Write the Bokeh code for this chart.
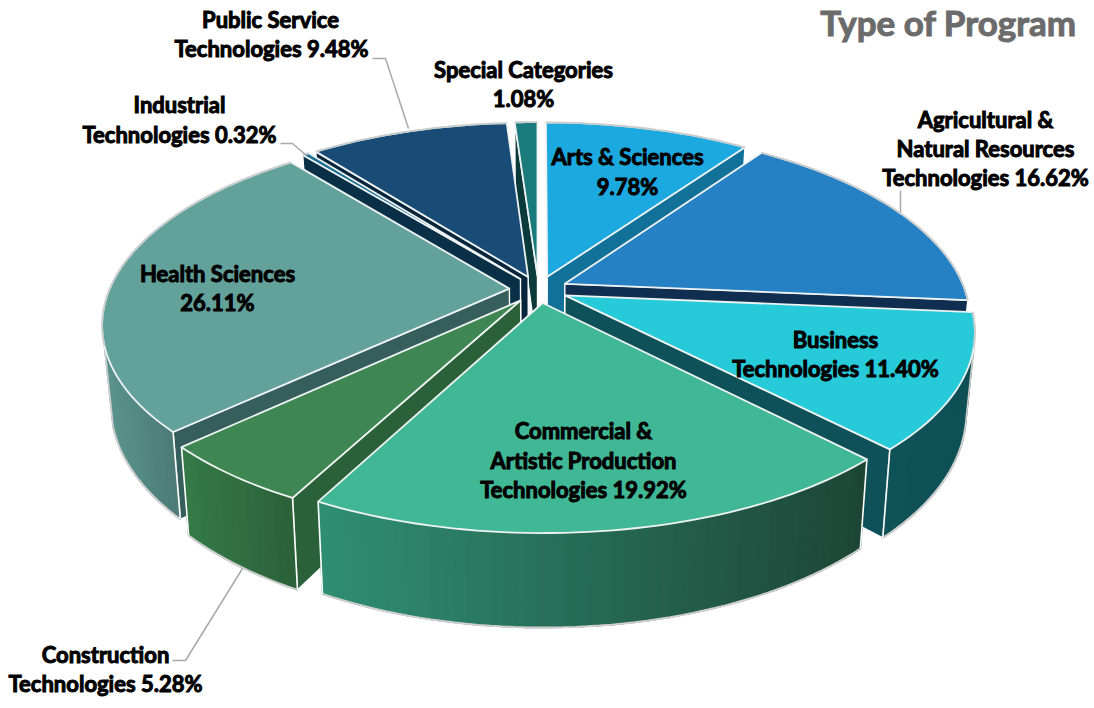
import math
from bokeh.plotting import figure
from bokeh.embed import file_html
from bokeh.resources import INLINE
from bokeh.core.properties import value

# --- data ---
programs = ["Arts & Sciences", "Agricultural & Natural Resources Technologies", "Business Technologies",
            "Commercial & Artistic Production Technologies", "Construction Technologies", "Health Sciences",
            "Industrial Technologies", "Public Service Technologies", "Special Categories"]
shares = [9.78, 16.62, 11.40, 19.92, 5.28, 26.11, 0.32, 9.48, 1.08]
top_colors = ["#1CA9E0", "#2581C4", "#27CAD8", "#40B795", "#3E8752", "#63A19B", "#1B6F94", "#184C76", "#1B7A7C"]
face_colors = ["#127198", "#0F2E50", "#0E5158", "#1E4A38", "#2B6138", "#365E5C", "#0A3048", "#08263B", "#0B3A3A"]
wall_left = ["#127198", "#0F2E50", "#0F5257", "#2F8F72", "#357A47", "#5A938D", "#0A3048", "#08263B", "#0B3A3A"]
wall_right = ["#127198", "#0F2E50", "#0E5055", "#1D4536", "#2B6138", "#4C7B76", "#0A3048", "#08263B", "#0B3A3A"]
label_lines = [
    ("Public Service", 270, 19), ("Technologies 9.48%", 271, 48),
    ("Special Categories", 523, 69), ("1.08%", 523, 98),
    ("Industrial", 179, 104), ("Technologies 0.32%", 179, 134),
    ("Arts & Sciences", 627, 156), ("9.78%", 627, 186),
    ("Agricultural &", 985, 119), ("Natural Resources", 985, 148), ("Technologies 16.62%", 985, 177),
    ("Business", 835, 339), ("Technologies 11.40%", 835, 368),
    ("Commercial &", 583, 430), ("Artistic Production", 583, 460), ("Technologies 19.92%", 583, 489),
    ("Health Sciences", 217, 273), ("26.11%", 217, 302),
    ("Construction", 105, 654), ("Technologies 5.28%", 105, 683),
]
leaders = [([408, 385, 372], [128, 58, 58]), ([306, 292, 280], [155, 143, 143]),
           ([242, 185, 172], [568, 660, 660]), ([900, 900], [190, 212])]

# --- projection of the tilted pie ---
CX, CY, RX, RY, KX, KY, EXPLODE, DEPTH, SHRINK = 538, 289, 400, 185, 0.18, 0.173, 0.073, 77, 0.98
WALL_MIN_V = 0.3


def proj(u, v, low=False):
    x = CX + RX * u / (1 - KX * v)
    wy = 1 / (1 - KY * v)
    y = CY + RY * v * wy
    if low:
        x = CX + (x - CX) * SHRINK
        y = y + DEPTH * wy
    return x, y


def mix(a, b, t):
    ca = [int(a[i:i + 2], 16) for i in (1, 3, 5)]
    cb = [int(b[i:i + 2], 16) for i in (1, 3, 5)]
    return "#%02x%02x%02x" % tuple(round(p + (q - p) * t) for p, q in zip(ca, cb))


p = figure(width=1090, height=700, x_range=(0, 1090), y_range=(700, 0), output_backend="svg",
           toolbar_location=None, min_border=0, outline_line_color=None, background_fill_color="white")
p.axis.visible = False
p.grid.visible = False

slices = []
start = 0.0
for i, s in enumerate(shares):
    a0 = start / 100 * 2 * math.pi
    a1 = (start + s) / 100 * 2 * math.pi
    start += s
    slices.append((i, a0, a1, (a0 + a1) / 2))
slices.sort(key=lambda t: -math.cos(t[3]))

GAP = "#EEF2F2"
for i, a0, a1, mid in slices:
    ou, ov = EXPLODE * math.sin(mid), -EXPLODE * math.cos(mid)
    n = max(4, int((a1 - a0) * 40))
    ang = [a0 + (a1 - a0) * k / n for k in range(n + 1)]
    rim = [(ou + math.sin(a), ov - math.cos(a)) for a in ang]
    tip = (ou, ov)
    # radial faces
    for edge, nrm in ((rim[0], a0 - math.pi / 2), (rim[-1], a1 + math.pi / 2)):
        if -math.cos(nrm) > 0.02:
            t0, t1 = proj(*tip), proj(*edge)
            b0, b1 = proj(*tip, low=True), proj(*edge, low=True)
            p.patch([t0[0], t1[0], b1[0], b0[0]], [t0[1], t1[1], b1[1], b0[1]],
                    fill_color=face_colors[i], line_color="white", line_width=1.4)
    # outer wall, as strips shaded from left to right
    vis = [k for k in range(n) if (rim[k][1] + rim[k + 1][1]) / 2 > WALL_MIN_V]
    if len(vis) >= 6:
        xs, ys, cols = [], [], []
        allx = [proj(*rim[k])[0] for k in vis] + [proj(*rim[vis[-1] + 1])[0]]
        lo, hi = min(allx), max(allx)
        for k in vis:
            a, b = rim[k], rim[k + 1]
            ta, tb, bb, ba = proj(*a), proj(*b), proj(*b, low=True), proj(*a, low=True)
            xs.append([ta[0], tb[0], bb[0], ba[0]])
            ys.append([ta[1], tb[1], bb[1], ba[1]])
            t = ((ta[0] + tb[0]) / 2 - lo) / max(hi - lo, 1)
            cols.append(mix(wall_left[i], wall_right[i], t))
        p.patches(xs, ys, fill_color=cols, line_color=cols, line_width=1.5)
        bot = [proj(*rim[k], low=True) for k in vis] + [proj(*rim[vis[-1] + 1], low=True)]
        p.line([q[0] for q in bot], [q[1] for q in bot], line_color="#CFCFCF", line_width=2)
        for k in (vis[0], vis[-1] + 1):
            c, d = proj(*rim[k]), proj(*rim[k], low=True)
            corner = "white" if rim[k][1] > WALL_MIN_V + 0.1 else "#CFCFCF"
            p.line([c[0], d[0]], [c[1], d[1]], line_color=corner, line_width=1.6)
    # top
    pts = [proj(*tip)] + [proj(*q) for q in rim]
    p.patch([q[0] for q in pts], [q[1] for q in pts], fill_color=top_colors[i],
            line_color=GAP, line_width=1.8, line_join="round")
    back = [proj(*q) for q in rim if q[1] < WALL_MIN_V]
    if len(back) > 1 and len(back) < len(rim) + 1:
        p.line([q[0] for q in back], [q[1] for q in back], line_color="#C8CCCC", line_width=1.8)

for lx, ly in leaders:
    p.line(lx, ly, line_color="#A9A9A9", line_width=1.5)

p.text([q[1] for q in label_lines], [q[2] for q in label_lines], text=[q[0] for q in label_lines],
       text_font=value("Lato"), text_font_style="bold", text_font_size="22px", text_color="#000000",
       text_outline_color="#000000", text_align="center", text_baseline="middle")
p.text([948], [21], text=["Type of Program"], text_font=value("Lato"), text_font_style="bold",
       text_font_size="35px", text_color="#6B6B6B", text_outline_color="#6B6B6B",
       text_align="center", text_baseline="middle")

open("out.html", "w").write(file_html(p, INLINE))
